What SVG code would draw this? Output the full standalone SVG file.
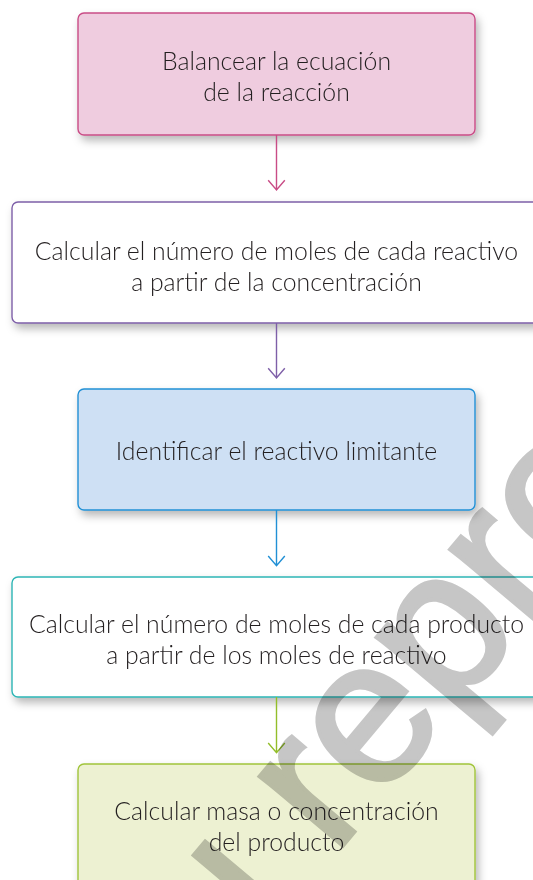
<svg xmlns="http://www.w3.org/2000/svg" width="533" height="880" viewBox="0 0 533 880">
<defs>
<filter id="sh" x="-10%" y="-20%" width="130%" height="160%">
<feDropShadow dx="3" dy="5" stdDeviation="4" flood-color="#000" flood-opacity="0.28"/>
</filter>
<style>
.box{stroke-width:1.4;filter:url(#sh)}
.t{font-family:Lato,"Liberation Sans",sans-serif;font-weight:300;font-size:24.8px;fill:#231f20;text-anchor:middle}
.c{fill:none;stroke-width:1.4}
.wm{font-family:"Liberation Sans",Arial,sans-serif;font-size:205px;fill:#c6c6c6;stroke:#c6c6c6;stroke-width:4;mix-blend-mode:multiply}
</style>
</defs>
<rect width="533" height="880" fill="#fff"/>
<g id="n1">
<rect class="box" x="78" y="13" width="397" height="122" rx="6" fill="#efccdf" stroke="#c94c86"/>
<text class="t" x="276.5" y="69.5">Balancear la ecuación</text>
<text class="t" x="276.5" y="100.5">de la reacción</text>
</g>
<g id="n2">
<rect class="box" x="12" y="202" width="529" height="121" rx="6" fill="#fff" stroke="#7e5fa8"/>
<text class="t" x="276.5" y="259.5">Calcular el número de moles de cada reactivo</text>
<text class="t" x="276.5" y="291">a partir de la concentración</text>
</g>
<g id="n3">
<rect class="box" x="78" y="389" width="397" height="121" rx="6" fill="#cee0f4" stroke="#2190d5"/>
<text class="t" x="276.5" y="459.5">Identificar el reactivo limitante</text>
</g>
<g id="n4">
<rect class="box" x="12" y="577" width="529" height="120" rx="6" fill="#fff" stroke="#2db5b5"/>
<text class="t" x="276.5" y="633">Calcular el número de moles de cada producto</text>
<text class="t" x="276.5" y="664">a partir de los moles de reactivo</text>
</g>
<g id="n5">
<rect class="box" x="78" y="764" width="397" height="130" rx="6" fill="#edf1d2" stroke="#a0c43a"/>
<text class="t" x="276.5" y="819.5">Calcular masa o concentración</text>
<text class="t" x="276.5" y="851">del producto</text>
</g>
<g id="connectors">
<path class="c" stroke="#c94c86" d="M276.5 135V190M268.2 180.3L276.5 190L284.8 180.3"/>
<path class="c" stroke="#7e5fa8" d="M276.5 323V378M268.2 368.3L276.5 378L284.8 368.3"/>
<path class="c" stroke="#2190d5" d="M276.5 510V565.7M268.2 556L276.5 565.7L284.8 556"/>
<path class="c" stroke="#93be2a" d="M276.5 697V752.7M268.2 743L276.5 752.7L284.8 743"/>
</g>
<text class="wm" transform="translate(158 1066) rotate(-50)">su reproducción</text>
</svg>
